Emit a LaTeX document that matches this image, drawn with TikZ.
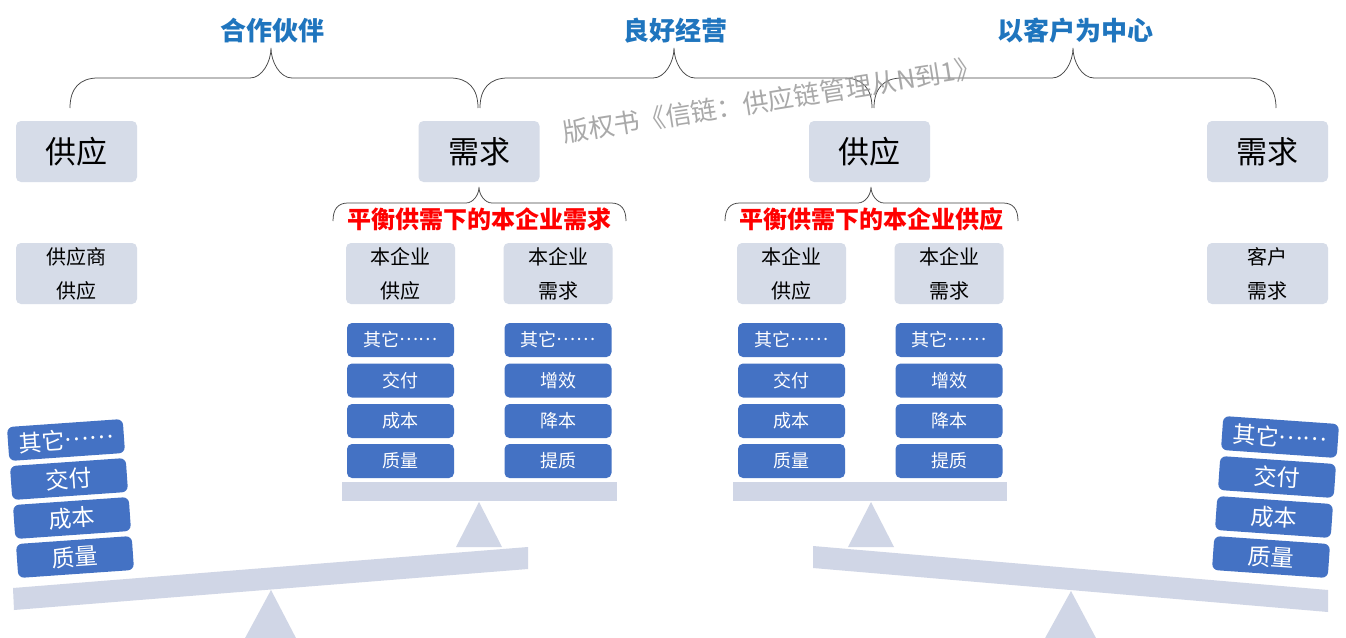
\documentclass[tikz,border=0pt]{standalone}
\usepackage{fontspec}
\setmainfont{Noto Sans CJK SC}
\definecolor{boxgray}{HTML}{D6DCE8}
\definecolor{beamgray}{HTML}{D0D6E6}
\definecolor{blueA}{HTML}{4472C4}
\definecolor{titleblue}{HTML}{1F75BE}
\definecolor{bracegray}{HTML}{454545}
\definecolor{redA}{HTML}{FF0000}
\definecolor{wmgray}{HTML}{9A9A9A}
\newcommand{\middots}{\raisebox{0.33em}{……}}
\tikzset{
  bigbox/.style={fill=boxgray, rounded corners=5pt, minimum width=121pt, minimum height=61pt, inner sep=0pt, font=\fontsize{31}{34}\selectfont},
  smallbox/.style={fill=boxgray, rounded corners=5pt, minimum width=109pt, minimum height=61pt, inner sep=0pt, align=center, font=\fontsize{20}{34}\selectfont},
  bluebox/.style={fill=blueA, rounded corners=5pt, minimum width=107pt, minimum height=34pt, inner sep=0pt, text=white, font=\fontsize{18}{20}\selectfont},
  tiltbox/.style={fill=blueA, rounded corners=6pt, minimum width=116pt, minimum height=34pt, inner sep=0pt, text=white, font=\fontsize{23}{25}\selectfont},
  titlelbl/.style={text=titleblue, inner sep=0pt, font=\fontsize{26}{28}\selectfont\bfseries},
  redlbl/.style={text=redA, inner sep=0pt, font=\fontsize{24}{26}\selectfont\bfseries},
  bracestyle/.style={draw=bracegray, line width=0.75pt},
  beam/.style={fill=beamgray, draw=none},
  watermark/.style={text=wmgray, opacity=0.85, inner sep=0pt, font=\fontsize{26}{28}\selectfont}
}
\begin{document}
\begin{tikzpicture}[x=1pt,y=-1pt]
\useasboundingbox (0,0) rectangle (1346,637);
\fill[white] (0,0) rectangle (1346,637);

% titles
\node[titlelbl] (t1) at (272,31) {合作伙伴};
\node[titlelbl] (t2) at (675,31) {良好经营};
\node[titlelbl] (t3) at (1075,31) {以客户为中心};

% top braces
\draw[bracestyle] (70,108) .. controls (70,88) and (80,78) .. (98,78) -- (250,78) .. controls (262,78) and (271,62) .. (271,48) .. controls (271,62) and (280,78) .. (292,78) -- (450,78) .. controls (468,78) and (478,88) .. (478,108);
\draw[bracestyle] (480,108) .. controls (480,88) and (490,78) .. (508,78) -- (653,78) .. controls (665,78) and (674,62) .. (674,48) .. controls (674,62) and (683,78) .. (695,78) -- (844,78) .. controls (862,78) and (872,88) .. (872,108);
\draw[bracestyle] (874,108) .. controls (874,88) and (884,78) .. (902,78) -- (1052,78) .. controls (1064,78) and (1073,62) .. (1073,48) .. controls (1073,62) and (1082,78) .. (1094,78) -- (1248,78) .. controls (1266,78) and (1276,88) .. (1276,108);

% big boxes
\node[bigbox] (s1) at (76.5,151.5) {供应};
\node[bigbox] (d1) at (479,151.5) {需求};
\node[bigbox] (s2) at (869.5,151.5) {供应};
\node[bigbox] (d2) at (1267.5,151.5) {需求};

% red braces and labels
\draw[bracestyle] (333,221) .. controls (333,209) and (338,203) .. (348,203) -- (466,203) .. controls (473,203) and (479,195) .. (479,187) .. controls (479,195) and (485,203) .. (492,203) -- (611,203) .. controls (621,203) and (626,209) .. (626,221);
\draw[bracestyle] (725,221) .. controls (725,209) and (730,203) .. (740,203) -- (858,203) .. controls (865,203) and (871,195) .. (871,187) .. controls (871,195) and (877,203) .. (884,203) -- (1003,203) .. controls (1013,203) and (1018,209) .. (1018,221);
\node[redlbl] (r1) at (479,219) {平衡供需下的本企业需求};
\node[redlbl] (r2) at (871,219) {平衡供需下的本企业供应};

% small gray boxes
\node[smallbox, minimum width=121pt] (g1) at (76.5,273.5) {供应商\\供应};
\node[smallbox] (g2) at (400.5,273.5) {本企业\\供应};
\node[smallbox] (g3) at (558,273.5) {本企业\\需求};
\node[smallbox] (g4) at (791.5,273.5) {本企业\\供应};
\node[smallbox] (g5) at (949,273.5) {本企业\\需求};
\node[smallbox, minimum width=121pt] (g6) at (1267.5,273.5) {客户\\需求};

% blue columns
\node[bluebox] (a1) at (400.5,340) {其它\middots};
\node[bluebox] (a2) at (400.5,380.5) {交付};
\node[bluebox] (a3) at (400.5,421) {成本};
\node[bluebox] (a4) at (400.5,461) {质量};
\node[bluebox] (b1) at (558,340) {其它\middots};
\node[bluebox] (b2) at (558,380.5) {增效};
\node[bluebox] (b3) at (558,421) {降本};
\node[bluebox] (b4) at (558,461) {提质};
\node[bluebox] (c1) at (791.5,340) {其它\middots};
\node[bluebox] (c2) at (791.5,380.5) {交付};
\node[bluebox] (c3) at (791.5,421) {成本};
\node[bluebox] (c4) at (791.5,461) {质量};
\node[bluebox] (e1) at (949,340) {其它\middots};
\node[bluebox] (e2) at (949,380.5) {增效};
\node[bluebox] (e3) at (949,421) {降本};
\node[bluebox] (e4) at (949,461) {提质};

% platforms and small triangles
\fill[beam] (342,482) rectangle (617,501);
\fill[beam] (733,482) rectangle (1007,501);
\fill[beam] (479,502) -- (502,547) -- (456,547) -- cycle;
\fill[beam] (871,502) -- (894,547) -- (848,547) -- cycle;

% big triangles and beams
\fill[beam] (271,590) -- (297,640) -- (244,640) -- cycle;
\fill[beam] (1071,591) -- (1097,640) -- (1044,640) -- cycle;
\fill[beam] (13,588) -- (528,547) -- (528,569) -- (14,610) -- cycle;
\fill[beam] (813,546) -- (1328,590) -- (1328,612) -- (813,568) -- cycle;

% tilted stacks
\node[tiltbox, rotate=4] (l1) at (66,440) {其它\middots};
\node[tiltbox, rotate=4] (l2) at (69,479) {交付};
\node[tiltbox, rotate=4] (l3) at (72,518) {成本};
\node[tiltbox, rotate=4] (l4) at (75,557) {质量};
\node[tiltbox, rotate=-4] (q1) at (1280,437) {其它\middots};
\node[tiltbox, rotate=-4] (q2) at (1277,477) {交付};
\node[tiltbox, rotate=-4] (q3) at (1274,517) {成本};
\node[tiltbox, rotate=-4] (q4) at (1271,557) {质量};

% watermark
\node[watermark, rotate=9] (wm) at (772,100) {版权书《信链：供应链管理从N到1》};
\end{tikzpicture}
\end{document}
